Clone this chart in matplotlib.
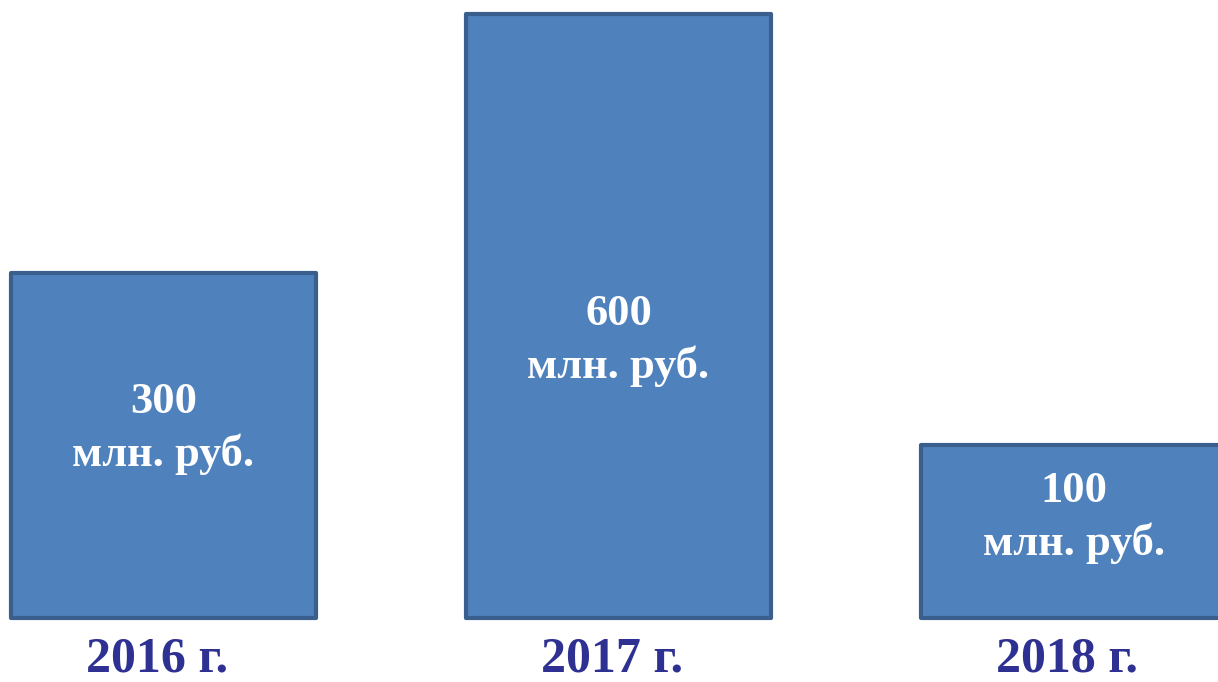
import matplotlib
matplotlib.use("Agg")
import matplotlib.pyplot as plt

years = ["2016 г.", "2017 г.", "2018 г."]
values = [300, 600, 100]
value_labels = ["300\nмлн. руб.", "600\nмлн. руб.", "100\nмлн. руб."]
base = -100  # bars start below zero, as in the original picture
text_pos = [0.55, 0.46, 0.58]  # label centre as a share of bar height

fill = "#4F81BD"
edge = "#3A5F8C"
navy = "#2E3192"

fig = plt.figure(figsize=(12.18, 6.82), dpi=100)
ax = fig.add_axes([0, 0, 1, 1])

x = range(len(values))
heights = [v - base for v in values]
ax.bar(x, heights, bottom=base, width=0.67, color=fill, edgecolor=edge,
       linewidth=3, joinstyle="round")

for i, v in enumerate(values):
    h = v - base
    ax.text(i, base + h * text_pos[i], value_labels[i], ha="center", va="center",
            color="white", fontsize=32, fontweight="bold",
            family="Liberation Serif", linespacing=1.35)
    ax.text(i - 0.015, -162, years[i], ha="center", va="baseline", color=navy,
            fontsize=36, fontweight="bold", family="Liberation Serif")

ax.set_xlim(-0.359, 2.317)
ax.set_ylim(-174.2, 616.1)
ax.axis("off")

fig.savefig("out.png", dpi=100)
